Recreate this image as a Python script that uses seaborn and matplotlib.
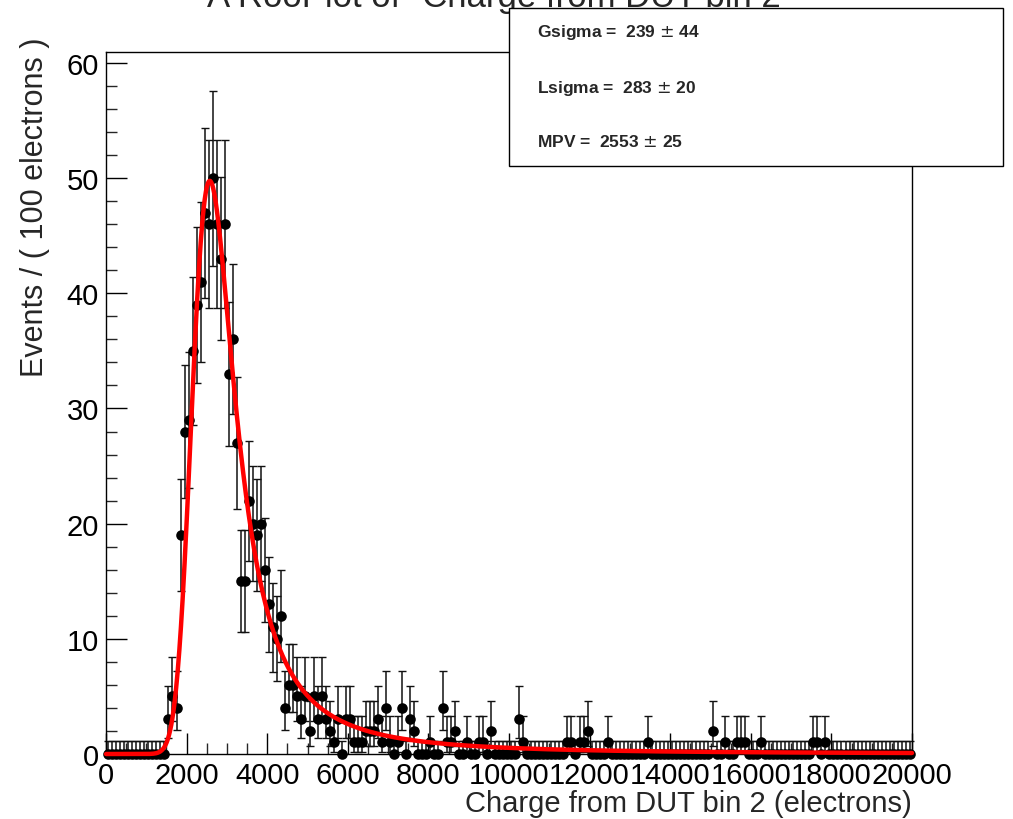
import numpy as np
import pandas as pd
import matplotlib
matplotlib.use("Agg")
import matplotlib.pyplot as plt
import seaborn as sns
from matplotlib.patches import Rectangle
from matplotlib.ticker import MultipleLocator

# ---------------- data (counts per 100-electron bin, 0..20000) ----------------
bin_width = 100
n_bins = 200
# non-zero bins: bin index -> count
nonzero_bins = [15, 16, 17, 18, 19, 20, 21, 22, 23, 24, 25, 26, 27, 28, 29, 30, 31, 32, 33, 34,
                35, 36, 37, 38, 39, 40, 41, 42, 43, 44, 45, 46, 47, 48, 49, 50, 51, 52, 53, 54,
                55, 56, 57, 59, 60, 61, 62, 63, 64, 65, 66, 67, 68, 69, 70, 72, 73, 75, 76, 80,
                83, 84, 85, 86, 89, 92, 93, 95, 102, 103, 114, 115, 117, 118, 119, 124, 134,
                150, 153, 156, 157, 158, 162, 175, 176, 178]
nonzero_counts = [3, 5, 4, 19, 28, 29, 35, 39, 41, 47, 46, 50, 46, 43, 46, 33, 36, 27, 15, 15,
                  22, 20, 19, 20, 16, 13, 11, 10, 12, 4, 6, 6, 5, 3, 5, 2, 5, 3, 5, 3,
                  2, 1, 3, 3, 3, 1, 1, 1, 2, 2, 2, 3, 1, 4, 1, 1, 4, 3, 2, 1,
                  4, 1, 1, 2, 1, 1, 1, 2, 3, 1, 1, 1, 1, 1, 2, 1, 1,
                  2, 1, 1, 1, 1, 1, 1, 1, 1]

# fit parameters (shown in the stat box)
mpv, mpv_err = 2553, 25
lsigma, lsigma_err = 283, 20
gsigma, gsigma_err = 239, 44

x_ticks = [0, 2000, 4000, 6000, 8000, 10000, 12000, 14000, 16000, 18000, 20000]
y_ticks = [0, 10, 20, 30, 40, 50, 60]

title = 'A RooPlot of "Charge from DUT bin 2"'
x_label = "Charge from DUT bin 2 (electrons)"
y_label = "Events / ( 100 electrons )"

# ---------------- build histogram ----------------
counts = np.zeros(n_bins)
counts[np.array(nonzero_bins)] = nonzero_counts
centers = (np.arange(n_bins) + 0.5) * bin_width

# RooFit-style Poisson errors
poisson_tab = {0: (0.0, 1.148), 1: (0.173, 3.300), 2: (0.708, 4.638), 3: (1.367, 5.918),
               4: (2.086, 7.163), 5: (2.840, 8.382), 6: (3.620, 9.584)}
lo, hi = [], []
for n in counts:
    n = int(n)
    if n in poisson_tab:
        a, b = poisson_tab[n]
    else:
        a = n - (0.5 + np.sqrt(n + 0.25))
        b = n + (0.5 + np.sqrt(n + 0.25))
    lo.append(n - a)
    hi.append(b - n)
lo = np.array(lo); hi = np.array(hi)

df = pd.DataFrame({"x": centers, "y": counts})

# ---------------- Landau (x) Gauss curve from fit parameters ----------------
def landau_std(lam):
    out = np.zeros_like(lam)
    t = np.linspace(0, 100, 20001)[1:]
    base = -t * np.log(t)
    s = np.sin(np.pi * t)
    idx = np.where(lam > -3.6)[0]
    for ch in np.array_split(idx, 40):
        if len(ch) == 0:
            continue
        l = lam[ch][:, None]
        out[ch] = np.trapezoid(np.exp(base - l * t) * s, t, axis=1) / np.pi
    return np.clip(out, 0, None)

dx = 10.0
xg = np.arange(-3000, 23000 + dx, dx)
land = landau_std((xg - mpv) / lsigma) / lsigma
kx = np.arange(-6 * gsigma, 6 * gsigma + dx, dx)
kern = np.exp(-0.5 * (kx / gsigma) ** 2)
kern /= kern.sum()
conv = np.convolve(land, kern, mode="same")
sel = (xg >= 0) & (xg <= 20000)
norm = np.trapezoid(conv[sel], xg[sel])
curve = pd.DataFrame({"x": xg[sel], "y": counts.sum() * bin_width * conv[sel] / norm})

# ---------------- plot ----------------
sns.set_style("ticks")
plt.rcParams["font.family"] = ["Liberation Sans", "DejaVu Sans"]

fig = plt.figure(figsize=(10.13, 8.2), dpi=100)
ax = fig.add_axes([106 / 1013, 1 - 755 / 820, (912 - 106) / 1013, (755 - 53) / 820])

ax.errorbar(centers, counts, yerr=[lo, hi], fmt="none", ecolor="#111111",
            elinewidth=1.1, capsize=3.0, capthick=1.0, zorder=2, clip_on=False)
sns.scatterplot(data=df, x="x", y="y", ax=ax, color="black", s=58, marker="o",
                edgecolor="black", linewidth=0, zorder=3, clip_on=False)
sns.lineplot(data=curve, x="x", y="y", ax=ax, color="#ff0000", linewidth=3.2,
             zorder=4, clip_on=False)

ax.set_xlim(0, 20000)
ax.set_ylim(0, 60.95)
ax.set_xticks(x_ticks)
ax.set_xticklabels([str(v) for v in x_ticks])
ax.set_yticks(y_ticks)
ax.set_yticklabels([str(v) for v in y_ticks])
ax.xaxis.set_minor_locator(MultipleLocator(500))
ax.yaxis.set_minor_locator(MultipleLocator(2))
ax.tick_params(axis="both", which="major", direction="in", length=15, width=1.0,
               labelsize=21, pad=5, colors="black")
ax.tick_params(axis="both", which="minor", direction="in", length=8, width=1.0)
ax.tick_params(top=False, right=False, which="both")
for sp in ax.spines.values():
    sp.set_linewidth(1.0)
    sp.set_color("black")
ax.set_xlabel("")
ax.set_ylabel("")

fig.text(912 / 1013, 1 - 812 / 820, x_label, ha="right", va="baseline", fontsize=21)
fig.text(35 / 1013, 1 - 207 / 820, y_label, ha="center", va="center", rotation=90, fontsize=22)
fig.text(500 / 1013, 1 - 7 / 820, title, ha="center", va="baseline", fontsize=25)

# stat box
box = Rectangle((509 / 1013, 1 - 167 / 820), (1003 - 509) / 1013, (167 - 9) / 820,
                transform=fig.transFigure, facecolor="white", edgecolor="black",
                linewidth=1.0, zorder=10)
fig.patches.append(box)
stat_lines = [f"Gsigma =  {gsigma} $\\pm$ {gsigma_err}",
              f"Lsigma =  {lsigma} $\\pm$ {lsigma_err}",
              f"MPV =  {mpv} $\\pm$ {mpv_err}"]
for yy, txt in zip([33, 88, 142], stat_lines):
    fig.text(537 / 1013, 1 - yy / 820, txt, ha="left", va="center", fontsize=12.5,
             fontweight="bold", zorder=11)

fig.savefig("out.png", dpi=100)
